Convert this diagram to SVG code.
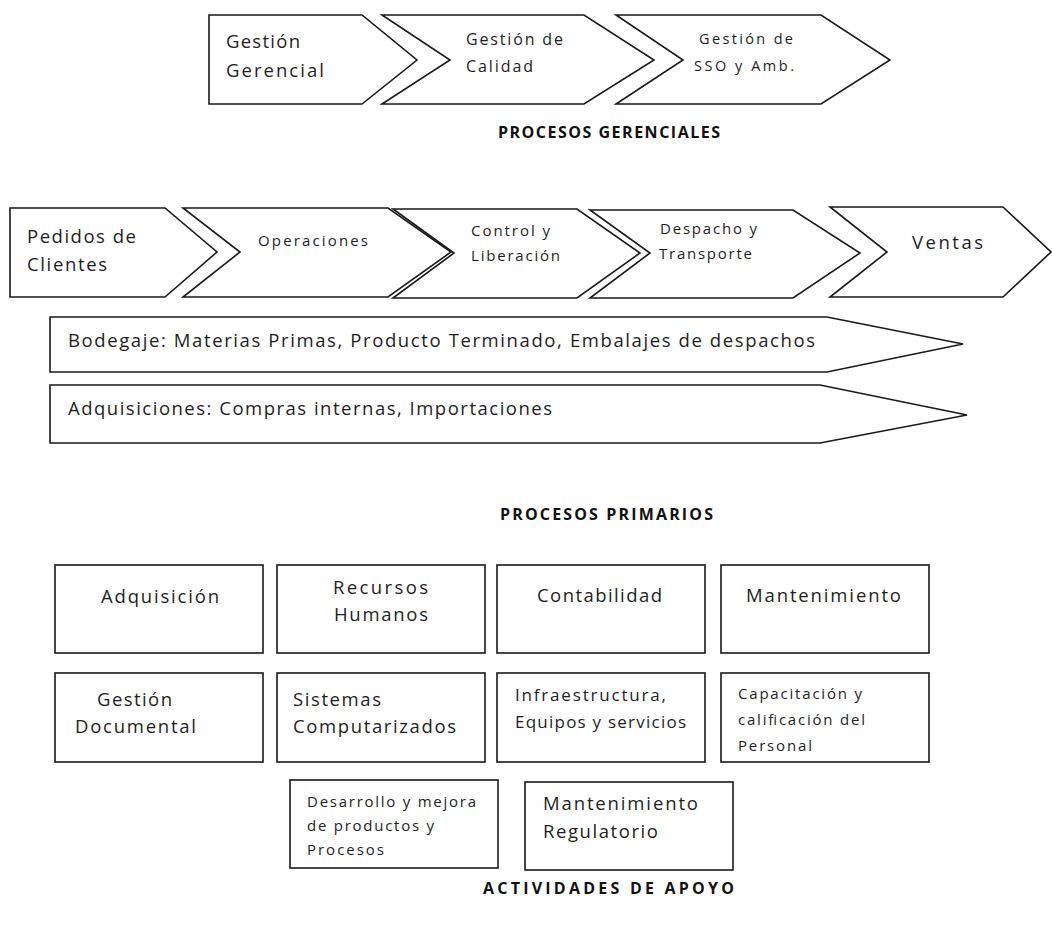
<svg xmlns="http://www.w3.org/2000/svg" width="1052" height="926" viewBox="0 0 1052 926">
<style>
.s{fill:#fff;stroke:#1a1a1a;stroke-width:1.6;stroke-linejoin:miter}
text{font-family:"Open Sans","Liberation Sans",sans-serif;fill:#1e1e1e}
.f17{font-size:18.5px}.f16{font-size:17px}.f15{font-size:16px}.f14{font-size:15px}.f13{font-size:14.5px}
.h{font-size:16px;font-weight:bold;fill:#111}
</style>
<rect width="1052" height="926" fill="#fff"/>
<g id="gerenciales">
<g id="n-gestion-gerencial"><polygon class="s" points="209,15 362,15 417,60 362,104 209,104"/>
<text class="f17" x="226" y="48" textLength="74" lengthAdjust="spacing">Gestión</text>
<text class="f17" x="226" y="77" textLength="98" lengthAdjust="spacing">Gerencial</text></g>
<g id="n-gestion-calidad"><polygon class="s" points="382,15 584,15 654,60 584,104 382,104 450,60"/>
<text class="f15" x="466" y="45" textLength="97" lengthAdjust="spacing">Gestión de</text>
<text class="f15" x="466" y="72" textLength="67" lengthAdjust="spacing">Calidad</text></g>
<g id="n-gestion-sso"><polygon class="s" points="616,15 821,15 890,60 821,104 616,104 683,60"/>
<text class="f13" x="699" y="44" textLength="94" lengthAdjust="spacing">Gestión de</text>
<text class="f13" x="694" y="71" textLength="100" lengthAdjust="spacing">SSO y Amb.</text></g>
<text class="h" x="498" y="138" textLength="222" lengthAdjust="spacing">PROCESOS GERENCIALES</text>
</g>
<g id="primarios">
<g id="n-pedidos"><polygon class="s" points="10,208 165,208 217,252 165,297 10,297"/>
<text class="f17" x="27" y="243" textLength="109" lengthAdjust="spacing">Pedidos de</text>
<text class="f17" x="27" y="271" textLength="80" lengthAdjust="spacing">Clientes</text></g>
<g id="n-operaciones"><polygon class="s" points="183,208 388,208 451,252 388,297 183,297 240,252"/>
<text class="f14" x="258" y="246" textLength="110" lengthAdjust="spacing">Operaciones</text></g>
<g id="n-control"><polygon class="s" points="393,209 577,209 640,253 577,298 393,298 454,253"/>
<text class="f14" x="471" y="236" textLength="79" lengthAdjust="spacing">Control y</text>
<text class="f14" x="471" y="261" textLength="89" lengthAdjust="spacing">Liberación</text></g>
<g id="n-despacho"><polygon class="s" points="590,210 793,210 860,253 793,298 590,298 650,253"/>
<text class="f14" x="660" y="234" textLength="97" lengthAdjust="spacing">Despacho y</text>
<text class="f14" x="659" y="259" textLength="93" lengthAdjust="spacing">Transporte</text></g>
<g id="n-ventas"><polygon class="s" points="830,207 1003,207 1051,252 1003,297 830,297 887,252"/>
<text class="f17" x="912" y="249" textLength="71" lengthAdjust="spacing">Ventas</text></g>
<g id="n-bodegaje"><polygon class="s" points="50,317 827,317 963,344 827,372 50,372"/>
<text class="f17" x="68" y="347" textLength="747" lengthAdjust="spacing">Bodegaje: Materias Primas, Producto Terminado, Embalajes de despachos</text></g>
<g id="n-adquisiciones"><polygon class="s" points="50,385 820,385 967,415 820,443 50,443"/>
<text class="f17" x="68" y="415" textLength="484" lengthAdjust="spacing">Adquisiciones: Compras internas, Importaciones</text></g>
<text class="h" x="500" y="520" textLength="213" lengthAdjust="spacing">PROCESOS PRIMARIOS</text>
</g>
<g id="apoyo">
<g id="n-adquisicion"><rect class="s" x="55" y="565" width="208" height="88"/>
<text class="f17" x="101" y="603" textLength="118" lengthAdjust="spacing">Adquisición</text></g>
<g id="n-rrhh"><rect class="s" x="277" y="565" width="208" height="88"/>
<text class="f17" x="333" y="594" textLength="95" lengthAdjust="spacing">Recursos</text>
<text class="f17" x="334" y="621" textLength="94" lengthAdjust="spacing">Humanos</text></g>
<g id="n-contabilidad"><rect class="s" x="497" y="565" width="208" height="88"/>
<text class="f17" x="537" y="602" textLength="125" lengthAdjust="spacing">Contabilidad</text></g>
<g id="n-mantenimiento"><rect class="s" x="721" y="565" width="208" height="88"/>
<text class="f17" x="746" y="602" textLength="155" lengthAdjust="spacing">Mantenimiento</text></g>
<g id="n-gestion-documental"><rect class="s" x="55" y="673" width="208" height="89"/>
<text class="f17" x="97" y="706" textLength="75" lengthAdjust="spacing">Gestión</text>
<text class="f17" x="75" y="733" textLength="121" lengthAdjust="spacing">Documental</text></g>
<g id="n-sistemas"><rect class="s" x="277" y="673" width="208" height="89"/>
<text class="f17" x="293" y="706" textLength="88" lengthAdjust="spacing">Sistemas</text>
<text class="f17" x="293" y="733" textLength="163" lengthAdjust="spacing">Computarizados</text></g>
<g id="n-infraestructura"><rect class="s" x="497" y="673" width="208" height="89"/>
<text class="f16" x="515" y="701" textLength="151" lengthAdjust="spacing">Infraestructura,</text>
<text class="f16" x="515" y="728" textLength="171" lengthAdjust="spacing">Equipos y servicios</text></g>
<g id="n-capacitacion"><rect class="s" x="721" y="673" width="208" height="89"/>
<text class="f14" x="738" y="699" textLength="124" lengthAdjust="spacing">Capacitación y</text>
<text class="f14" x="738" y="725" textLength="127" lengthAdjust="spacing">calificación del</text>
<text class="f14" x="738" y="751" textLength="74" lengthAdjust="spacing">Personal</text></g>
<g id="n-desarrollo"><rect class="s" x="290" y="780" width="208" height="88"/>
<text class="f14" x="307" y="807" textLength="169" lengthAdjust="spacing">Desarrollo y mejora</text>
<text class="f14" x="307" y="831" textLength="127" lengthAdjust="spacing">de productos y</text>
<text class="f14" x="307" y="855" textLength="77" lengthAdjust="spacing">Procesos</text></g>
<g id="n-mant-regulatorio"><rect class="s" x="525" y="782" width="208" height="88"/>
<text class="f17" x="543" y="810" textLength="155" lengthAdjust="spacing">Mantenimiento</text>
<text class="f17" x="543" y="838" textLength="115" lengthAdjust="spacing">Regulatorio</text></g>
<text class="h" x="483" y="894" textLength="251" lengthAdjust="spacing">ACTIVIDADES DE APOYO</text>
</g>
<g id="connectors"></g>
</svg>
